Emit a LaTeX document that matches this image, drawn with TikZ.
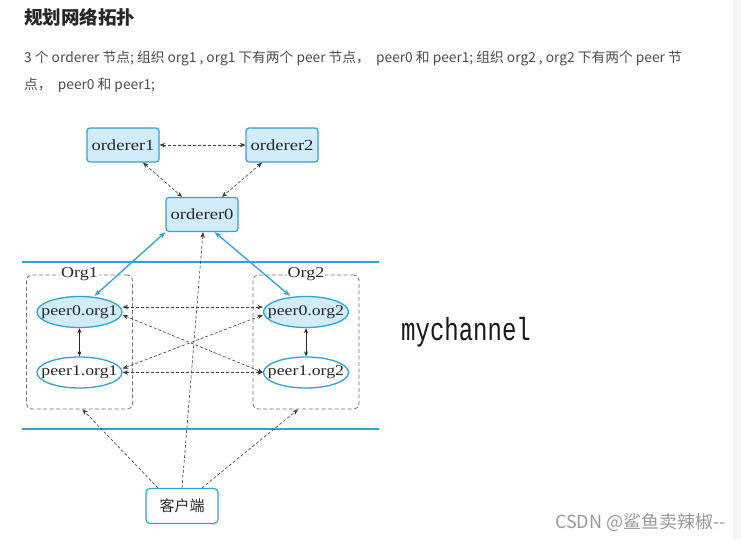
\documentclass[tikz,border=0pt]{standalone}
\usepackage{fontspec}
\usetikzlibrary{arrows.meta,shapes.geometric}
\newfontfamily\cjk{Noto Sans CJK SC}
\newfontfamily\diag[FakeStretch=1.2]{Liberation Serif}
\newfontfamily\chan[FakeStretch=0.75]{Liberation Mono}
\definecolor{lblue}{HTML}{2EA3D8}
\definecolor{lfill}{HTML}{D2ECFA}
\definecolor{dgray}{HTML}{3A3A3A}
\definecolor{txtgray}{HTML}{4D4D4D}
\tikzset{
  ordbox/.style={draw=lblue, line width=1.2pt, fill=lfill, rounded corners=3pt,
    minimum width=72pt, minimum height=34pt, inner sep=0pt, text=black!85,
    font=\diag\fontsize{15.5}{18}\selectfont},
  clientbox/.style={draw=lblue, line width=1.2pt, fill=white, rounded corners=4pt,
    minimum width=72pt, minimum height=35pt, inner sep=0pt, text=black!85,
    font=\cjk\fontsize{15}{18}\selectfont},
  peerA/.style={ellipse, draw=lblue, line width=1.3pt, fill=lfill,
    minimum width=85pt, minimum height=31pt, inner sep=0pt, text=black!85,
    font=\diag\fontsize{14.8}{18}\selectfont},
  peerB/.style={peerA, fill=white},
  orgbox/.style={draw=black!55, dash pattern=on 4pt off 2.5pt, line width=0.8pt,
    rounded corners=5pt, minimum width=106pt, minimum height=134pt, inner sep=0pt},
  orglabel/.style={fill=white, inner sep=1pt, text=black!85,
    font=\diag\fontsize{15}{17}\selectfont},
  dlink/.style={draw=dgray, dash pattern=on 3pt off 2pt, line width=0.6pt,
    {Stealth[length=5.5pt,width=4.5pt]}-{Stealth[length=5.5pt,width=4.5pt]}},
  dlinkone/.style={draw=dgray, dash pattern=on 3pt off 2pt, line width=0.6pt,
    -{Stealth[length=5.5pt,width=4.5pt]}},
  blink/.style={draw=lblue, line width=1.3pt,
    {Stealth[length=7pt,width=5pt]}-{Stealth[length=7pt,width=5pt]}},
  slink/.style={draw=black!85, line width=0.8pt,
    {Stealth[length=5pt,width=4pt]}-{Stealth[length=5pt,width=4pt]}},
  chline/.style={draw=lblue, line width=1.2pt}
}
\begin{document}
\begin{tikzpicture}[x=1pt,y=-1pt]
\useasboundingbox (0,0) rectangle (741,539);
\fill[white] (0,0) rectangle (741,539);
\fill[black!4] (733,0) rectangle (741,539);

% heading and paragraph
\node[anchor=base west, inner sep=0pt, text=black!85, font=\cjk\bfseries\fontsize{18.5}{20}\selectfont] (title) at (24,24) {规划网络拓扑};
\node[anchor=base west, inner sep=0pt, text=txtgray, font=\cjk\fontsize{13.75}{16}\selectfont] (para1) at (24,62)
  {3 个 orderer 节点; 组织 org1 , org1 下有两个 peer 节点，\ \ peer0 和 peer1; 组织 org2 , org2 下有两个 peer 节};
\node[anchor=base west, inner sep=0pt, text=txtgray, font=\cjk\fontsize{13.75}{16}\selectfont] (para2) at (24,89)
  {点，\ \ peer0 和 peer1;};

% channel lines
\coordinate (chTL) at (22,262);
\coordinate (chTR) at (379,262);
\coordinate (chBL) at (22,429);
\coordinate (chBR) at (379,429);
\draw[chline] (chTL) -- (chTR);
\draw[chline] (chBL) -- (chBR);

% org boxes
\node[orgbox] (g1) at (79.5,342) {};
\node[orgbox] (g2) at (306,342) {};
\node[orglabel] (g1l) at (g1.north) {Org1};
\node[orglabel] (g2l) at (g2.north) {Org2};

% orderers
\node[ordbox] (o1) at (123,145) {orderer1};
\node[ordbox] (o2) at (282,145) {orderer2};
\node[ordbox] (o0) at (202,214.5) {orderer0};

% peers
\node[peerA] (p01) at (79.5,312) {\makebox[0pt]{peer0.org1}};
\node[peerB] (p11) at (79.5,372.5) {\makebox[0pt]{peer1.org1}};
\node[peerA] (p02) at (306,312) {\makebox[0pt]{peer0.org2}};
\node[peerB] (p12) at (306,372.5) {\makebox[0pt]{peer1.org2}};

% client
\node[clientbox] (cl) at (182,506) {客户端};

% channel name and watermark
\node[anchor=base west, inner sep=0pt, text=black!90, font=\chan\fontsize{32}{34}\selectfont] (chname) at (401,340) {mychannel};
\node[anchor=base east, inner sep=0pt, text=black!40, font=\cjk\fontsize{18}{20}\selectfont] (wm) at (726,528) {CSDN @鲨鱼卖辣椒--};

% orderer links
\draw[dlink] (o1.east) -- (o2.west);
\draw[dlink] ([xshift=20pt]o1.south) -- ([xshift=-20pt]o0.north);
\draw[dlink] ([xshift=-20pt]o2.south) -- ([xshift=20pt]o0.north);

% blue links
\draw[blink] (o0.south west) -- ([xshift=15pt]p01.north);
\draw[blink] ([xshift=-24pt]o0.south east) -- ([xshift=-16pt]p02.north);

% peer links
\draw[dlink] ([yshift=5pt]p01.east) -- ([yshift=5pt]p02.west);
\draw[dlink] (p11.east) -- (p12.west);
\draw[dlink] ([yshift=-3pt]p01.east) -- (p12.west);
\draw[dlink] ([yshift=4pt]p11.east) -- ([yshift=-3pt]p02.west);
\draw[slink] (p01.south) -- (p11.north);
\draw[slink] (p02.south) -- (p12.north);

% client links
\draw[dlinkone] (cl.north) -- ([xshift=1pt]o0.south);
\draw[dlinkone] ([xshift=-24pt]cl.north) -- ([xshift=3pt]g1.south);
\draw[dlinkone] ([xshift=20pt]cl.north) -- ([xshift=-8pt]g2.south);
\end{tikzpicture}
\end{document}
